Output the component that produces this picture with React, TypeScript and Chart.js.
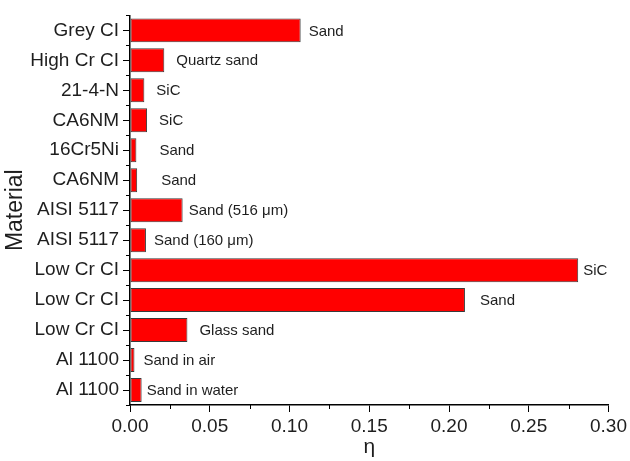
import React, { useEffect, useRef } from "react";
import { Chart, registerables } from "chart.js";

Chart.register(...registerables);

const materials = [
  "Grey CI",
  "High Cr CI",
  "21-4-N",
  "CA6NM",
  "16Cr5Ni",
  "CA6NM",
  "AISI 5117",
  "AISI 5117",
  "Low Cr CI",
  "Low Cr CI",
  "Low Cr CI",
  "Al 1100",
  "Al 1100",
];

const etaValues = [0.107, 0.0215, 0.009, 0.0107, 0.004, 0.0045, 0.033, 0.010, 0.281, 0.210, 0.036, 0.0028, 0.0073];

const erodents = [
  "Sand",
  "Quartz sand",
  "SiC",
  "SiC",
  "Sand",
  "Sand",
  "Sand (516 \u03bcm)",
  "Sand (160 \u03bcm)",
  "SiC",
  "Sand",
  "Glass sand",
  "Sand in air",
  "Sand in water",
];

const xTickValues = [0, 0.05, 0.1, 0.15, 0.2, 0.25, 0.3];

// pixel gaps between bar end and its label (layout only)
const labelGaps = [8, 12, 12, 12, 23, 24, 6, 8, 5, 15, 12, 9, 5];

const FONT = "Arial, \"Liberation Sans\", Helvetica, sans-serif";
const TEXT = "#1e1e1e";

const barLabelPlugin = {
  id: "barLabels",
  afterDatasetsDraw(chart: any) {
    const ctx = chart.ctx;
    const meta = chart.getDatasetMeta(0);
    ctx.save();
    ctx.font = `15px ${FONT}`;
    ctx.fillStyle = TEXT;
    ctx.textBaseline = "middle";
    ctx.textAlign = "left";
    meta.data.forEach((bar: any, i: number) => {
      ctx.fillText(erodents[i], bar.x + labelGaps[i], bar.y + 1);
    });
    ctx.restore();
  },
};

const minorTickPlugin = {
  id: "minorTicks",
  afterDraw(chart: any) {
    const ctx = chart.ctx;
    const xs = chart.scales.x;
    const ys = chart.scales.y;
    const area = chart.chartArea;
    ctx.save();
    ctx.strokeStyle = "#000";
    ctx.lineWidth = 1;
    ctx.beginPath();
    for (let i = 0; i < xTickValues.length - 1; i++) {
      const v = (xTickValues[i] + xTickValues[i + 1]) / 2;
      const px = Math.round(xs.getPixelForValue(v)) + 0.5;
      ctx.moveTo(px, area.bottom);
      ctx.lineTo(px, area.bottom + 4);
    }
    for (let i = 0; i <= materials.length; i++) {
      const py = Math.round(ys.getPixelForValue(i - 0.5)) + 0.5;
      ctx.moveTo(area.left - 4, py);
      ctx.lineTo(area.left, py);
    }
    ctx.stroke();
    ctx.restore();
  },
};

export default function App() {
  const ref = useRef<HTMLCanvasElement | null>(null);

  useEffect(() => {
    if (!ref.current) return;
    const chart = new Chart(ref.current, {
      type: "bar",
      data: {
        labels: materials,
        datasets: [
          {
            data: etaValues,
            backgroundColor: "#ff0000",
            borderColor: "#3a3a3a",
            borderWidth: 1,
            borderSkipped: false,
            barPercentage: 0.8,
            categoryPercentage: 1.0,
          },
        ],
      },
      options: {
        indexAxis: "y",
        animation: false,
        responsive: false,
        layout: { padding: { top: 13, right: 17, bottom: 0, left: 0 } },
        plugins: {
          legend: { display: false },
          tooltip: { enabled: false },
        },
        scales: {
          x: {
            type: "linear",
            min: 0,
            max: 0.3,
            afterFit(scale: any) {
              scale.height = 56;
            },
            afterBuildTicks(scale: any) {
              scale.ticks = xTickValues.map((v) => ({ value: v }));
            },
            ticks: {
              callback: (v: any) => Number(v).toFixed(2),
              font: { family: FONT, size: 19 },
              color: TEXT,
              padding: 3,
              maxRotation: 0,
            },
            grid: {
              display: true,
              drawOnChartArea: false,
              drawTicks: true,
              tickLength: 7,
              color: "#000",
              lineWidth: 1,
            },
            border: { display: true, color: "#000", width: 1.5 },
            title: {
              display: true,
              text: "\u03b7",
              font: { family: FONT, size: 21 },
              color: TEXT,
              padding: { top: 0, bottom: 1 },
            },
          },
          y: {
            type: "category",
            afterFit(scale: any) {
              scale.width = 130;
            },
            ticks: {
              font: { family: FONT, size: 19 },
              color: TEXT,
              padding: 4,
              autoSkip: false,
            },
            grid: {
              display: true,
              offset: false,
              drawOnChartArea: false,
              drawTicks: true,
              tickLength: 7,
              color: "#000",
              lineWidth: 1,
            },
            border: { display: true, color: "#000", width: 1.5 },
            title: {
              display: true,
              text: "Material",
              font: { family: FONT, size: 23 },
              color: TEXT,
              padding: { top: 2, bottom: 0 },
            },
          },
        },
      },
      plugins: [barLabelPlugin, minorTickPlugin],
    } as any);
    return () => chart.destroy();
  }, []);

  return (
    <div style={{ position: "absolute", left: 0, top: 0, width: 630, height: 461, background: "#fff" }}>
      <canvas ref={ref} width={630} height={461} style={{ display: "block" }} />
    </div>
  );
}
